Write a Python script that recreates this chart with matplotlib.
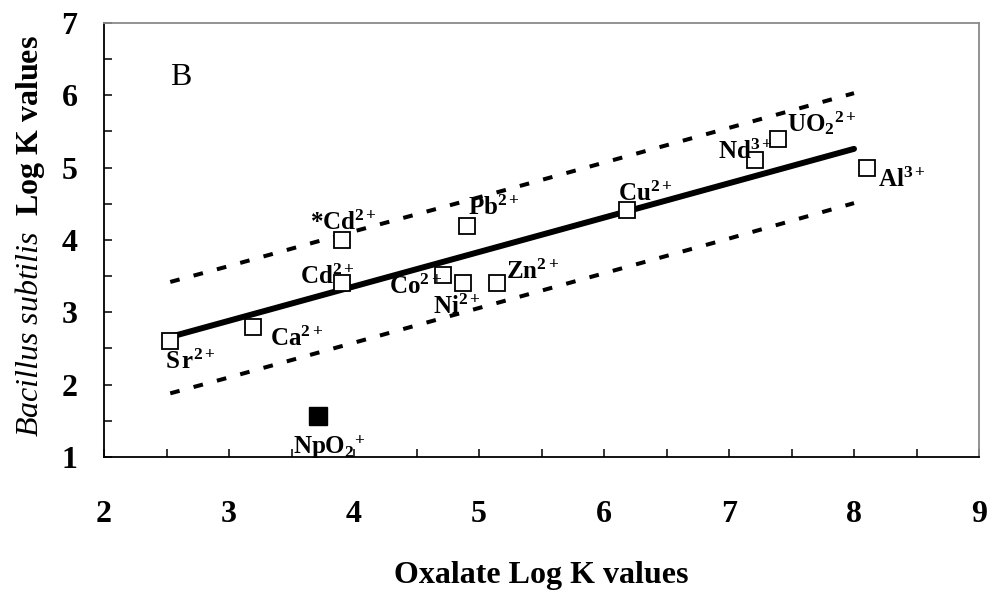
import matplotlib
matplotlib.use("Agg")
import matplotlib.pyplot as plt
from matplotlib.ticker import MultipleLocator

plt.rcParams["font.family"] = ["Liberation Serif", "DejaVu Serif"]
plt.rcParams["mathtext.fontset"] = "custom"
plt.rcParams["mathtext.rm"] = "Liberation Serif"
plt.rcParams["mathtext.it"] = "Liberation Serif:italic"
plt.rcParams["mathtext.bf"] = "Liberation Serif:bold"

# Metal cations: oxalate log K vs. Bacillus subtilis log K
ions = ["Sr", "Ca", "*Cd", "Cd", "Co", "Ni", "Zn", "Pb", "Cu", "Nd", "UO2", "Al"]
oxalate_logk = [2.53, 3.19, 3.90, 3.90, 4.71, 4.87, 5.14, 4.90, 6.18, 7.21, 7.39, 8.10]
bacillus_logk = [2.61, 2.80, 4.00, 3.41, 3.51, 3.40, 3.40, 4.20, 4.41, 5.10, 5.40, 5.00]

# Neptunyl point (filled)
np_oxalate = [3.71]
np_bacillus = [1.57]

# Regression line and its band
fit_x = [2.53, 8.00]
fit_y = [2.66, 5.26]
band_x = [2.53, 3.0, 4.0, 5.0, 6.0, 7.0, 8.0]
band_upper = [3.42, 3.64, 4.12, 4.59, 5.07, 5.55, 6.03]
band_lower = [1.88, 2.10, 2.58, 3.06, 3.54, 4.02, 4.51]

labels = {
    "Sr": r"S$\,$r$^{\mathbf{2+}}$",
    "Ca": r"Ca$^{\mathbf{2+}}$",
    "*Cd": r"*Cd$^{\mathbf{2+}}$",
    "Cd": r"Cd$^{\mathbf{2+}}$",
    "Co": r"Co$^{\mathbf{2+}}$",
    "Ni": r"Ni$^{\mathbf{2+}}$",
    "Zn": r"Zn$^{\mathbf{2+}}$",
    "Pb": r"Pb$^{\mathbf{2+}}$",
    "Cu": r"Cu$^{\mathbf{2+}}$",
    "Nd": r"Nd$^{\mathbf{3+}}$",
    "UO2": r"UO$_{\mathbf{2}}$$^{\mathbf{2+}}$",
    "Al": r"Al$^{\mathbf{3+}}$",
}
# label offsets in pixels (left edge, baseline) relative to each marker
label_offsets = {
    "Sr": (-5, -28), "Ca": (17, -19), "*Cd": (-32, 10), "Cd": (-41, -1),
    "Co": (-54, -19), "Ni": (-30, -31), "Zn": (10, 4), "Pb": (1, 11),
    "Cu": (-9, 9), "Nd": (-37, 1), "UO2": (9, 7), "Al": (11, -19),
}

fig = plt.figure(figsize=(9.92, 5.92), dpi=100)
ax = fig.add_axes([104 / 992, 1 - 457 / 592, (979 - 104) / 992, (457 - 23) / 592])

ax.plot(band_x, band_upper, color="black", lw=2.9, linestyle=(0, (2.4, 3.6)),
        dash_capstyle="butt")
ax.plot(band_x, band_lower, color="black", lw=2.9, linestyle=(0, (2.4, 3.6)),
        dash_capstyle="butt")
ax.plot(fit_x, fit_y, color="black", lw=4.3, solid_capstyle="round")

ax.plot(oxalate_logk, bacillus_logk, linestyle="none", marker="s", ms=11,
        mfc="white", mec="black", mew=1.3, zorder=5)
ax.plot(np_oxalate, np_bacillus, linestyle="none", marker="s", ms=13.5,
        mfc="black", mec="black", zorder=5)

for ion, x, y in zip(ions, oxalate_logk, bacillus_logk):
    dx, dy = label_offsets[ion]
    ax.annotate(labels[ion], xy=(x, y), xytext=(dx, dy), textcoords="offset pixels",
                ha="left", va="baseline", fontsize=18, fontweight="bold", zorder=6)

ax.annotate(r"NpO$_{\mathbf{2}}$$^{\mathbf{+}}$", xy=(np_oxalate[0], np_bacillus[0]),
            xytext=(-25, -38), textcoords="offset pixels", ha="left", va="baseline",
            fontsize=18, fontweight="bold")

ax.text(0.076, 0.875, "B", transform=ax.transAxes, fontsize=23, ha="left", va="center")

ax.set_xlim(2, 9)
ax.set_ylim(1, 7)
ax.xaxis.set_major_locator(MultipleLocator(1))
ax.xaxis.set_minor_locator(MultipleLocator(0.5))
ax.yaxis.set_major_locator(MultipleLocator(1))
ax.yaxis.set_minor_locator(MultipleLocator(0.5))
ax.tick_params(which="both", direction="in", length=6, width=1.1, top=False, right=False)
ax.tick_params(axis="x", which="major", pad=31, labelsize=23)
ax.tick_params(axis="y", which="major", pad=19, labelsize=23)
for lab in ax.get_xticklabels() + ax.get_yticklabels():
    lab.set_fontweight("bold")

for side in ("left", "bottom"):
    ax.spines[side].set_color("black")
    ax.spines[side].set_linewidth(1.3)
for side in ("top", "right"):
    ax.spines[side].set_color("#8a8a8a")
    ax.spines[side].set_linewidth(1.3)

fig.text(541 / 992, 1 - 576 / 592, "Oxalate Log K values", ha="center", va="center",
         fontsize=23, fontweight="bold")
fig.text(30 / 992, 1 - 236 / 592, r"$\mathit{Bacillus\ subtilis}$  Log K values",
         rotation=90, ha="center", va="center", fontsize=23, fontweight="bold")

fig.savefig("out.png", dpi=100)
